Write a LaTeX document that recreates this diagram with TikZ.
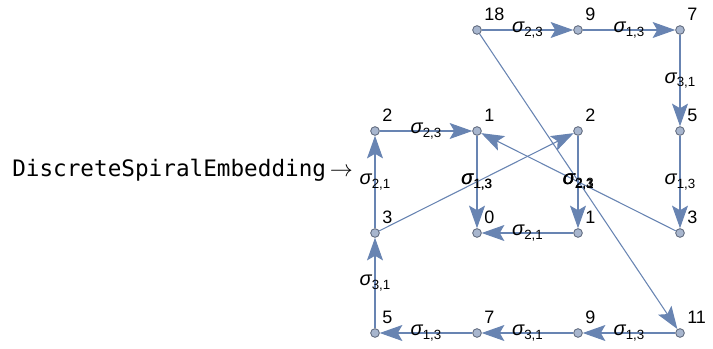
\documentclass[tikz,border=0pt]{standalone}
\usepackage{fontspec}
\setmainfont{Liberation Sans}
\newfontfamily\codefont{DejaVu Sans Mono}
\usetikzlibrary{arrows.meta}
\definecolor{edgecolor}{RGB}{104,132,178}
\definecolor{vertexfill}{RGB}{168,182,206}
\definecolor{vertexline}{RGB}{88,98,118}
% sigma with its index pair
\newcommand{\sig}[1]{{\fontsize{15}{17}\selectfont\itshape σ}\raisebox{-0.5ex}{\fontsize{10}{12}\selectfont #1}}

\begin{document}
\begin{tikzpicture}[x=0.75pt, y=-0.75pt,
    vertex/.style={circle, draw=vertexline, fill=vertexfill, line width=0.6pt, inner sep=0pt, minimum size=6.5pt},
    edge/.style={draw=edgecolor, line width=0.8pt, -{Stealth[length=17pt, width=12pt, inset=3.5pt]}},
    lbl/.style={font=\fontsize{13.5}{15}\selectfont, anchor=south west, inner sep=0pt},
    sg/.style={inner sep=0pt}]
    \useasboundingbox (0,0) rectangle (713,349);

    % Option name
    \node[font=\codefont\fontsize{17}{20}\selectfont, anchor=west, inner sep=0pt] (opt) at (12,170) {DiscreteSpiralEmbedding\,$\rightarrow$};

    % Top row
    \node[vertex] (a18) at (477,30) {};
    \node[vertex] (a9) at (578,30) {};
    \node[vertex] (a7) at (680,30) {};
    % Second row
    \node[vertex] (b2) at (375,131) {};
    \node[vertex] (b1) at (477,131) {};
    \node[vertex] (c2) at (578,131) {};
    \node[vertex] (b5) at (680,131) {};
    % Third row
    \node[vertex] (b3) at (375,233) {};
    \node[vertex] (b0) at (477,233) {};
    \node[vertex] (c1) at (578,233) {};
    \node[vertex] (d3) at (680,233) {};
    % Bottom row
    \node[vertex] (e5) at (375,333) {};
    \node[vertex] (e7) at (477,333) {};
    \node[vertex] (e9) at (578,333) {};
    \node[vertex] (e11) at (680,333) {};

    % Vertex numbers
    \node[lbl] at ([shift={(7,-9)}]a18) {18};
    \node[lbl] at ([shift={(7,-9)}]a9) {9};
    \node[lbl] at ([shift={(7,-9)}]a7) {7};
    \node[lbl] at ([shift={(7,-9)}]b2) {2};
    \node[lbl] at ([shift={(7,-9)}]b1) {1};
    \node[lbl] at ([shift={(7,-9)}]c2) {2};
    \node[lbl] at ([shift={(7,-9)}]b5) {5};
    \node[lbl] at ([shift={(7,-9)}]b3) {3};
    \node[lbl] at ([shift={(7,-9)}]b0) {0};
    \node[lbl] at ([shift={(7,-9)}]c1) {1};
    \node[lbl] at ([shift={(7,-9)}]d3) {3};
    \node[lbl] at ([shift={(7,-9)}]e5) {5};
    \node[lbl] at ([shift={(7,-9)}]e7) {7};
    \node[lbl] at ([shift={(7,-9)}]e9) {9};
    \node[lbl] at ([shift={(7,-9)}]e11) {11};

    % Edges
    \draw[edge] (a18) -- node[sg] {\sig{2,3}} (a9);
    \draw[edge] (a9) -- node[sg] {\sig{1,3}} (a7);
    \draw[edge] (a7) -- node[sg] {\sig{3,1}} (b5);
    \draw[edge] (b5) -- node[sg] {\sig{1,3}} (d3);
    \draw[edge] (d3) -- node[sg] {\sig{2,1}} (b1);
    \draw[edge] (c2) -- node[sg] {\sig{2,3}} (c1);
    \draw[edge] (c1) -- node[sg] {\sig{2,1}} (b0);
    \draw[edge] (b1) -- node[sg] {\sig{1,3}} (b0);
    \draw[edge] (b3) -- node[sg] {\sig{1,3}} (c2);
    \draw[edge] (b3) -- node[sg] {\sig{2,1}} (b2);
    \draw[edge] (b2) -- node[sg] {\sig{2,3}} (b1);
    \draw[edge] (e5) -- node[sg] {\sig{3,1}} (b3);
    \draw[edge] (e11) -- node[sg] {\sig{1,3}} (e9);
    \draw[edge] (e9) -- node[sg] {\sig{3,1}} (e7);
    \draw[edge] (e7) -- node[sg] {\sig{1,3}} (e5);
    \draw[edge] (a18) -- node[sg] {\sig{2,3}} (e11);
\end{tikzpicture}
\end{document}
